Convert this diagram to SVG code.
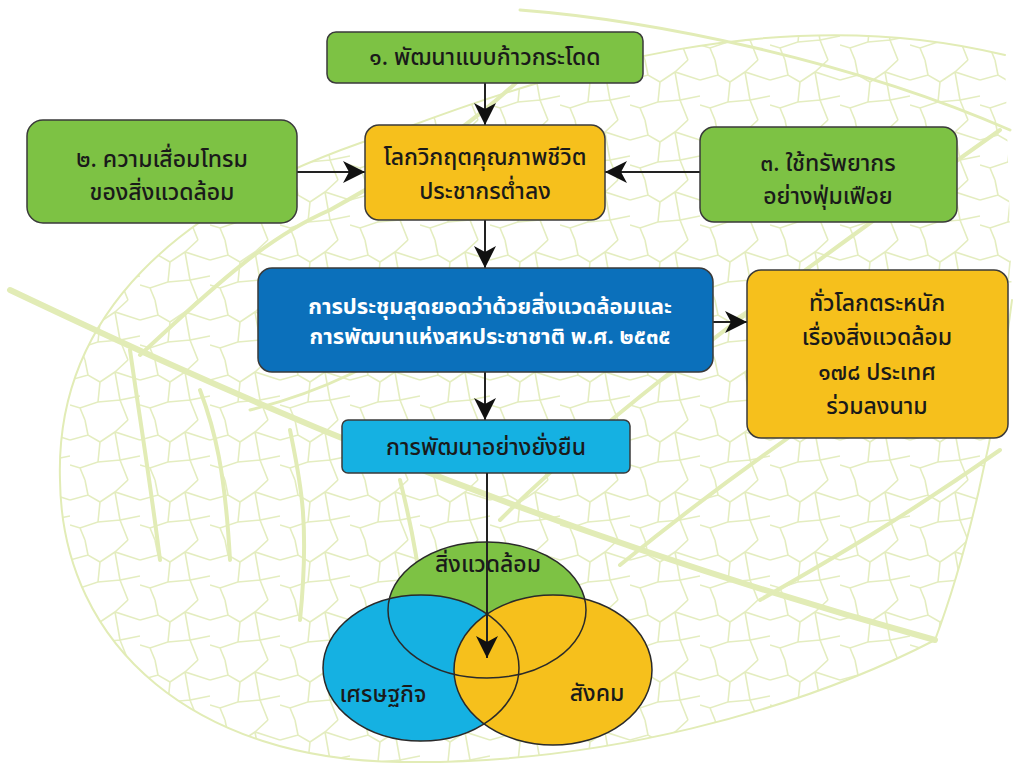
<svg xmlns="http://www.w3.org/2000/svg" width="1020" height="767" viewBox="0 0 1020 767">
<defs>
<style>
.box{stroke:#3a3a3a;stroke-width:1.5}
.green{fill:#7dc244}
.yellow{fill:#f6c01c}
.blue{fill:#0b70bb}
.lblue{fill:#15b1e2}
.t{font-family:"Noto Sans Thai","Leelawadee UI",Tahoma,"Noto Sans",sans-serif;font-size:23px;font-weight:500;fill:#1a1a1a;text-anchor:middle;dominant-baseline:central}
.w{fill:#ffffff;font-weight:bold;font-size:22px}
.conn{stroke:#222;stroke-width:2;fill:none}
.vein{stroke:#e2ecb6;fill:none;stroke-linecap:round;stroke-linejoin:round}
.venn{stroke:#2a2a2a;stroke-width:1.5;fill:none}
</style>
<marker id="arr" markerUnits="userSpaceOnUse" markerWidth="24" markerHeight="22" refX="22" refY="11" orient="auto">
<path d="M0,0 L22,11 L0,22 L6,11 Z" fill="#111"/>
</marker>
<pattern id="net" width="70" height="60" patternUnits="userSpaceOnUse">
<path d="M0,20 L18,15 L30,22 L45,12 L70,20 M18,15 L15,0 M30,22 L28,42 L10,48 L0,45 M28,42 L50,40 L58,60 M45,12 L50,40 L70,36 M10,48 L15,60 M58,0 L45,12" stroke="#e4edc0" stroke-width="1.6" fill="none"/>
</pattern>
<clipPath id="leafclip">
<path d="M60,480 C55,320 170,200 400,130 C560,70 780,0 1005,55 L1012,300 C995,440 965,560 935,640 C800,710 600,765 400,762 C200,760 62,650 60,480 Z"/>
</clipPath>
</defs>
<rect width="1020" height="767" fill="#ffffff"/>
<g id="background">
<rect width="1020" height="767" fill="url(#net)" clip-path="url(#leafclip)"/>
<path class="vein" stroke-width="2" d="M60,480 C55,320 170,200 400,130 C560,70 780,0 1005,55 M1012,300 C995,440 965,560 935,640 C800,710 600,765 400,762 C200,760 62,650 60,480"/>
<path class="vein" stroke-width="6" d="M10,290 C200,380 500,520 935,640"/>
<path class="vein" stroke-width="4" d="M140,355 C200,300 260,240 330,210 C420,160 480,120 540,60 M200,390 C215,430 225,470 230,560 M290,430 C300,480 310,520 300,620 M500,520 C600,420 760,300 1000,130 M620,565 C700,500 830,400 1005,300 M130,350 C140,420 150,480 160,560 M760,600 C830,560 900,520 1000,450 M400,480 C420,560 430,620 420,740"/>
<path class="vein" stroke-width="3" d="M520,10 C650,20 850,60 1010,130 M250,410 C330,390 380,360 430,330"/>
</g>
<g id="connectors">
<line class="conn" x1="485" y1="83" x2="485" y2="125" marker-end="url(#arr)"/>
<line class="conn" x1="297" y1="172" x2="365" y2="172" marker-end="url(#arr)"/>
<line class="conn" x1="700" y1="172" x2="605" y2="172" marker-end="url(#arr)"/>
<line class="conn" x1="485" y1="220" x2="485" y2="268" marker-end="url(#arr)"/>
<line class="conn" x1="713" y1="322" x2="747" y2="322" marker-end="url(#arr)"/>
<line class="conn" x1="485" y1="372" x2="485" y2="420" marker-end="url(#arr)"/>
</g>
<g id="node1">
<rect class="box green" x="327" y="32" width="316" height="51" rx="9"/>
<text class="t" x="485" y="58">๑. พัฒนาแบบก้าวกระโดด</text>
</g>
<g id="node2">
<rect class="box green" x="27" y="120" width="270" height="103" rx="16"/>
<text class="t" x="162" y="160">๒. ความเสื่อมโทรม</text>
<text class="t" x="162" y="193">ของสิ่งแวดล้อม</text>
</g>
<g id="node-crisis">
<rect class="box yellow" x="365" y="125" width="240" height="95" rx="14"/>
<text class="t" x="485" y="158">โลกวิกฤตคุณภาพชีวิต</text>
<text class="t" x="485" y="192">ประชากรต่ำลง</text>
</g>
<g id="node3">
<rect class="box green" x="700" y="127" width="257" height="95" rx="14"/>
<text class="t" x="828" y="164">๓. ใช้ทรัพยากร</text>
<text class="t" x="828" y="197">อย่างฟุ่มเฟือย</text>
</g>
<g id="node-summit">
<rect class="box blue" x="258" y="268" width="455" height="104" rx="14"/>
<text class="t w" x="490" y="307">การประชุมสุดยอดว่าด้วยสิ่งแวดล้อมและ</text>
<text class="t w" x="490" y="337">การพัฒนาแห่งสหประชาชาติ พ.ศ. ๒๕๓๕</text>
</g>
<g id="node-aware">
<rect class="box yellow" x="747" y="270" width="261" height="168" rx="14"/>
<text class="t" x="877" y="304">ทั่วโลกตระหนัก</text>
<text class="t" x="877" y="338">เรื่องสิ่งแวดล้อม</text>
<text class="t" x="877" y="373">๑๗๘ ประเทศ</text>
<text class="t" x="877" y="407">ร่วมลงนาม</text>
</g>
<g id="node-sustain">
<rect class="box lblue" x="342" y="420" width="288" height="53" rx="6"/>
<text class="t" x="486" y="448">การพัฒนาอย่างยั่งยืน</text>
</g>
<g id="venn">
<ellipse cx="487" cy="610" rx="99" ry="68" fill="#7dc244"/>
<ellipse cx="421" cy="668" rx="98" ry="73" fill="#15b1e2"/>
<ellipse cx="553" cy="670" rx="99" ry="75" fill="#f6c01c"/>
<ellipse class="venn" cx="487" cy="610" rx="99" ry="68"/>
<ellipse class="venn" cx="421" cy="668" rx="98" ry="73"/>
<ellipse class="venn" cx="553" cy="670" rx="99" ry="75"/>
<text class="t" x="488" y="565">สิ่งแวดล้อม</text>
<text class="t" x="383" y="695">เศรษฐกิจ</text>
<text class="t" x="597" y="694">สังคม</text>
</g>
<g id="connectors-venn">
<line class="conn" x1="487" y1="473" x2="487" y2="658" marker-end="url(#arr)"/>
</g>
</svg>
